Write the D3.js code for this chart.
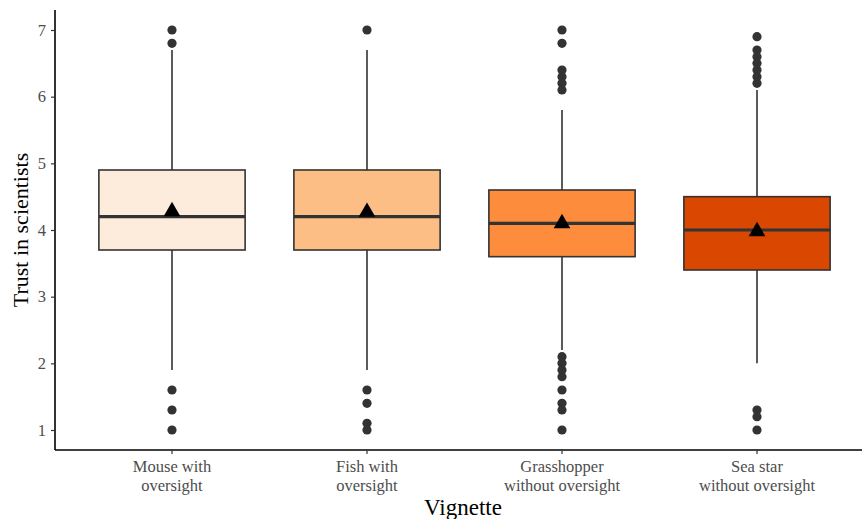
<!DOCTYPE html>
<html>
<head>
<meta charset="utf-8">
<script src="https://cdn.jsdelivr.net/npm/d3@7"></script>
<style>
  body { margin: 0; background: #fff; }
  svg { display: block; }
</style>
</head>
<body>
<svg></svg>
<script>
const width = 862,
    height = 519;

// vignettes and their summary stats
const vignettes = ["Mouse with\noversight", "Fish with\noversight", "Grasshopper\nwithout oversight", "Sea star\nwithout oversight"];
const q1 = [3.7, 3.7, 3.6, 3.4];
const medians = [4.2, 4.2, 4.1, 4.0];
const q3 = [4.9, 4.9, 4.6, 4.5];
const whiskerLow = [1.9, 1.9, 2.2, 2.0];
const whiskerHigh = [6.7, 6.7, 5.8, 6.1];
const means = [4.28, 4.27, 4.1, 3.98];
const outliers = [
    [7.0, 6.8, 1.6, 1.3, 1.0],
    [7.0, 1.6, 1.4, 1.1, 1.0],
    [7.0, 6.8, 6.4, 6.3, 6.2, 6.1, 2.1, 2.0, 1.9, 1.8, 1.6, 1.4, 1.3, 1.0],
    [6.9, 6.7, 6.6, 6.5, 6.4, 6.3, 6.2, 1.3, 1.2, 1.0]
];
const fills = ["#fdebdc", "#fdbe85", "#fd8d3c", "#d94701"];
const yTicks = [1, 2, 3, 4, 5, 6, 7];

const margin = { top: 10, right: 0, bottom: 69, left: 55 };

const svg = d3.select("svg")
    .attr("width", width)
    .attr("height", height)
    .style("font-family", "'Liberation Serif', 'Times New Roman', serif");

// ggplot style discrete expansion: 0.6 of a band on each side
const bandW = 195;
const x = d3.scalePoint()
    .domain(d3.range(vignettes.length))
    .range([margin.left + 0.6 * bandW, margin.left + 0.6 * bandW + 3 * bandW]);

const y = d3.scaleLinear()
    .domain([1, 7])
    .range([430, 30]);

const boxW = bandW * 0.75;
const ink = "#333333";

const groups = svg.selectAll("g.box")
    .data(vignettes)
    .enter()
    .append("g")
    .attr("class", "box");

// whiskers
groups.append("line")
    .attr("x1", (d, i) => x(i)).attr("x2", (d, i) => x(i))
    .attr("y1", (d, i) => y(whiskerHigh[i])).attr("y2", (d, i) => y(q3[i]))
    .attr("stroke", ink).attr("stroke-width", 1.6);
groups.append("line")
    .attr("x1", (d, i) => x(i)).attr("x2", (d, i) => x(i))
    .attr("y1", (d, i) => y(q1[i])).attr("y2", (d, i) => y(whiskerLow[i]))
    .attr("stroke", ink).attr("stroke-width", 1.6);

// boxes
groups.append("rect")
    .attr("x", (d, i) => x(i) - boxW / 2)
    .attr("width", boxW)
    .attr("y", (d, i) => y(q3[i]))
    .attr("height", (d, i) => y(q1[i]) - y(q3[i]))
    .attr("fill", (d, i) => fills[i])
    .attr("stroke", ink)
    .attr("stroke-width", 1.6);

// medians
groups.append("line")
    .attr("x1", (d, i) => x(i) - boxW / 2).attr("x2", (d, i) => x(i) + boxW / 2)
    .attr("y1", (d, i) => y(medians[i])).attr("y2", (d, i) => y(medians[i]))
    .attr("stroke", ink).attr("stroke-width", 3.2);

// outliers
groups.each(function(d, i) {
    d3.select(this).selectAll("circle")
        .data(outliers[i])
        .enter()
        .append("circle")
        .attr("cx", x(i))
        .attr("cy", v => y(v))
        .attr("r", 4.6)
        .attr("fill", ink);
});

// means
const tri = d3.symbol().type(d3.symbolTriangle).size(120);
groups.append("path")
    .attr("d", tri)
    .attr("transform", (d, i) => `translate(${x(i)},${y(means[i])})`)
    .attr("fill", "#000");

// axes
const yAxis = svg.append("g")
    .attr("transform", `translate(${margin.left},0)`)
    .call(d3.axisLeft(y).tickValues(yTicks).tickFormat(d3.format("d")).tickSize(4).tickPadding(5));
yAxis.select(".domain").attr("d", `M0,10V450`).attr("stroke", "#000").attr("stroke-width", 1.6);
yAxis.selectAll(".tick line").attr("stroke", ink).attr("stroke-width", 1.2);
yAxis.selectAll(".tick text")
    .attr("fill", "#4d4d4d")
    .style("font-size", "16.5px")
    .style("font-family", "'Liberation Serif', serif");

const xAxis = svg.append("g")
    .attr("transform", `translate(0,450)`);
xAxis.append("line")
    .attr("x1", margin.left).attr("x2", width)
    .attr("stroke", "#000").attr("stroke-width", 1.6);
xAxis.selectAll(".tk")
    .data(vignettes)
    .enter()
    .append("line")
    .attr("x1", (d, i) => x(i)).attr("x2", (d, i) => x(i))
    .attr("y1", 0).attr("y2", 4)
    .attr("stroke", ink).attr("stroke-width", 1.2);
xAxis.selectAll("text.lbl")
    .data(vignettes)
    .enter()
    .append("text")
    .attr("class", "lbl")
    .attr("text-anchor", "middle")
    .attr("fill", "#4d4d4d")
    .style("font-size", "16.5px")
    .each(function(d, i) {
        const t = d3.select(this);
        d.split("\n").forEach((line, j) => {
            t.append("tspan")
                .attr("x", x(i))
                .attr("y", 22 + j * 19)
                .text(line);
        });
    });

// axis titles
svg.append("text")
    .attr("transform", `translate(28,${y(4)}) rotate(-90)`)
    .attr("text-anchor", "middle")
    .attr("fill", "#000")
    .style("font-size", "22px")
    .text("Trust in scientists");

svg.append("text")
    .attr("x", 463)
    .attr("y", 515)
    .attr("text-anchor", "middle")
    .attr("fill", "#000")
    .style("font-size", "23px")
    .text("Vignette");
</script>
</body>
</html>
